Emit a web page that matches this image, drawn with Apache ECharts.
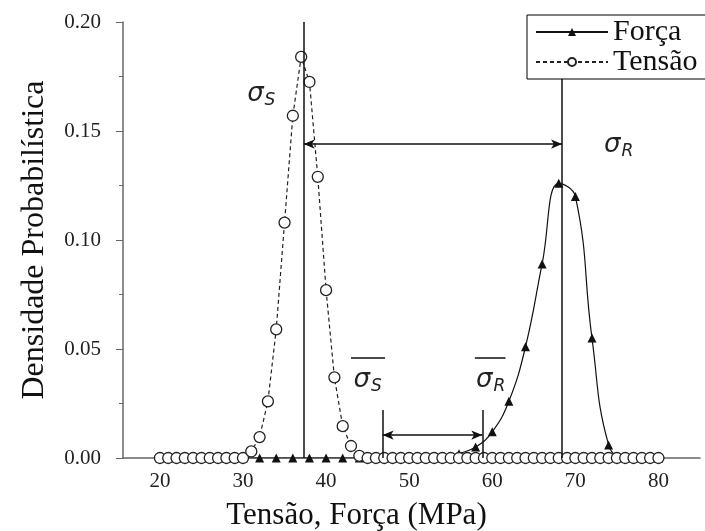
<!doctype html>
<html>
<head>
<meta charset="utf-8">
<title>Densidade Probabilística</title>
<script src="https://cdn.jsdelivr.net/npm/echarts@6/dist/echarts.min.js"></script>
<style>
  html, body { margin: 0; padding: 0; background: #fff; }
  #main { width: 705px; height: 531px; }
</style>
</head>
<body>
<div id="main"></div>
<script>
// x tick labels
var xTicks = [20, 30, 40, 50, 60, 70, 80];

// Tensao (stress) density, one point per MPa
var tensaoX = [20, 21, 22, 23, 24, 25, 26, 27, 28, 29, 30, 31, 32, 33, 34, 35, 36, 37, 38, 39, 40,
               41, 42, 43, 44, 45, 46, 47, 48, 49, 50, 51, 52, 53, 54, 55, 56, 57, 58, 59, 60,
               61, 62, 63, 64, 65, 66, 67, 68, 69, 70, 71, 72, 73, 74, 75, 76, 77, 78, 79, 80];
var tensaoY = [0, 0, 0, 0, 0, 0, 0, 0, 0, 0, 0, 0.003, 0.0096, 0.026, 0.059, 0.108, 0.157, 0.184, 0.1725, 0.129, 0.077,
               0.037, 0.0146, 0.0055, 0.001, 0, 0, 0, 0, 0, 0, 0, 0, 0, 0, 0, 0, 0, 0, 0, 0,
               0, 0, 0, 0, 0, 0, 0, 0, 0, 0, 0, 0, 0, 0, 0, 0, 0, 0, 0, 0];

// Forca (strength) density, one point every 2 MPa
var forcaX = [20, 22, 24, 26, 28, 30, 32, 34, 36, 38, 40, 42, 44, 46, 48, 50, 52, 54, 56, 58, 60,
              62, 64, 66, 68, 70, 72, 74, 76, 78, 80];
var forcaY = [0, 0, 0, 0, 0, 0, 0, 0, 0, 0, 0, 0, 0, 0, 0, 0, 0, 0, 0.002, 0.005, 0.012,
              0.026, 0.051, 0.089, 0.126, 0.120, 0.055, 0.006, 0, 0, 0];

// annotation positions (data units)
var meanLines = [37.3, 68.4];      // sigma_S, sigma_R
var meanTop = [0.2, 0.175];
var marginLines = [46.8, 58.8];    // overlined sigma_S, sigma_R
var marginTop = 0.022;
var arrowY = [0.144, 0.0105];
var overlineY = 0.046;
var overlineX = [[43.0, 47.1], [57.9, 61.6]];
var labelPos = [[32.2, 0.167], [75.2, 0.1436], [45.0, 0.0358], [59.8, 0.0358]];
var labelSub = ['S', 'R', 'S', 'R'];

var chart = echarts.init(document.getElementById('main'));

var serif = 'Liberation Serif';
var arrowEnd = { symbol: 'arrow', symbolSize: [7, 11] };

var lines = [
    [{ coord: [meanLines[0], 0] }, { coord: [meanLines[0], meanTop[0]] }],
    [{ coord: [meanLines[1], 0] }, { coord: [meanLines[1], meanTop[1]] }],
    [Object.assign({ coord: [meanLines[0], arrowY[0]] }, arrowEnd),
     Object.assign({ coord: [meanLines[1], arrowY[0]] }, arrowEnd)],
    [{ coord: [marginLines[0], 0] }, { coord: [marginLines[0], marginTop] }],
    [{ coord: [marginLines[1], 0] }, { coord: [marginLines[1], marginTop] }],
    [Object.assign({ coord: [marginLines[0], arrowY[1]] }, arrowEnd),
     Object.assign({ coord: [marginLines[1], arrowY[1]] }, arrowEnd)],
    [{ coord: [overlineX[0][0], overlineY] }, { coord: [overlineX[0][1], overlineY] }],
    [{ coord: [overlineX[1][0], overlineY] }, { coord: [overlineX[1][1], overlineY] }]
];

var sigmaLabels = labelPos.map(function (p, i) {
    return {
        coord: p,
        label: { formatter: '{g|σ}{s|' + labelSub[i] + '}' }
    };
});

chart.setOption({
    animation: false,
    backgroundColor: '#fff',
    grid: { left: 123, right: 5, top: 22, bottom: 73, outerBoundsMode: 'none' },
    legend: {
        orient: 'vertical',
        left: 527,
        top: 15,
        z: 10,
        padding: [2, 10, 2, 8],
        itemGap: 0,
        itemWidth: 72,
        itemHeight: 10,
        borderColor: '#000',
        borderWidth: 1,
        backgroundColor: '#fff',
        textStyle: { fontFamily: serif, fontSize: 30, color: '#111' },
        data: ['Força', 'Tensão']
    },
    xAxis: {
        type: 'value',
        min: 15.56,
        max: 85,
        name: 'Tensão, Força (MPa)',
        nameLocation: 'middle',
        nameGap: 42,
        nameTextStyle: { fontFamily: serif, fontSize: 31, color: '#111', padding: [0, 110, 0, 0] },
        axisLine: { onZero: true, lineStyle: { color: '#666', width: 1.5 } },
        axisTick: { show: false },
        splitLine: { show: false },
        axisLabel: {
            customValues: xTicks,
            fontFamily: serif, fontSize: 21, color: '#222', margin: 13
        }
    },
    yAxis: {
        type: 'value',
        min: 0,
        max: 0.2,
        interval: 0.05,
        name: 'Densidade Probabilística',
        nameLocation: 'middle',
        nameGap: 72,
        nameTextStyle: { fontFamily: serif, fontSize: 32, color: '#111' },
        axisLine: { show: true, lineStyle: { color: '#666', width: 1.5 } },
        axisTick: { show: true, length: 7, lineStyle: { color: '#666' } },
        minorTick: { show: true, splitNumber: 2, length: 4, lineStyle: { color: '#666' } },
        splitLine: { show: false },
        axisLabel: {
            formatter: function (v) { return v.toFixed(2); },
            fontFamily: serif, fontSize: 21, color: '#222', margin: 22
        }
    },
    series: [
        {
            name: 'Força',
            type: 'line',
            smooth: 0.45,
            symbol: 'triangle',
            symbolSize: 9,
            itemStyle: { color: '#111' },
            lineStyle: { color: '#111', width: 1.2 },
            data: forcaX.map(function (x, i) { return [x, forcaY[i]]; }),
            z: 2,
            markLine: {
                silent: true,
                symbol: 'none',
                label: { show: false },
                lineStyle: { color: '#111', width: 1.5, type: 'solid' },
                data: lines
            }
        },
        {
            name: 'Tensão',
            type: 'line',
            symbol: 'circle',
            symbolSize: 11,
            showAllSymbol: true,
            itemStyle: { color: '#fff', borderColor: '#222', borderWidth: 1.3 },
            lineStyle: { color: '#222', width: 1.2, type: [4, 3] },
            data: tensaoX.map(function (x, i) { return [x, tensaoY[i]]; }),
            z: 3,
            markPoint: {
                silent: true,
                symbol: 'circle',
                symbolSize: 0,
                label: {
                    show: true,
                    position: 'inside',
                    color: '#222',
                    rich: {
                        g: { fontFamily: 'DejaVu Sans', fontStyle: 'italic', fontSize: 26, color: '#222' },
                        s: { fontFamily: 'DejaVu Sans', fontStyle: 'italic', fontSize: 17, color: '#222', padding: [14, 0, 0, 1] }
                    }
                },
                data: sigmaLabels
            }
        }
    ]
});
</script>
</body>
</html>
